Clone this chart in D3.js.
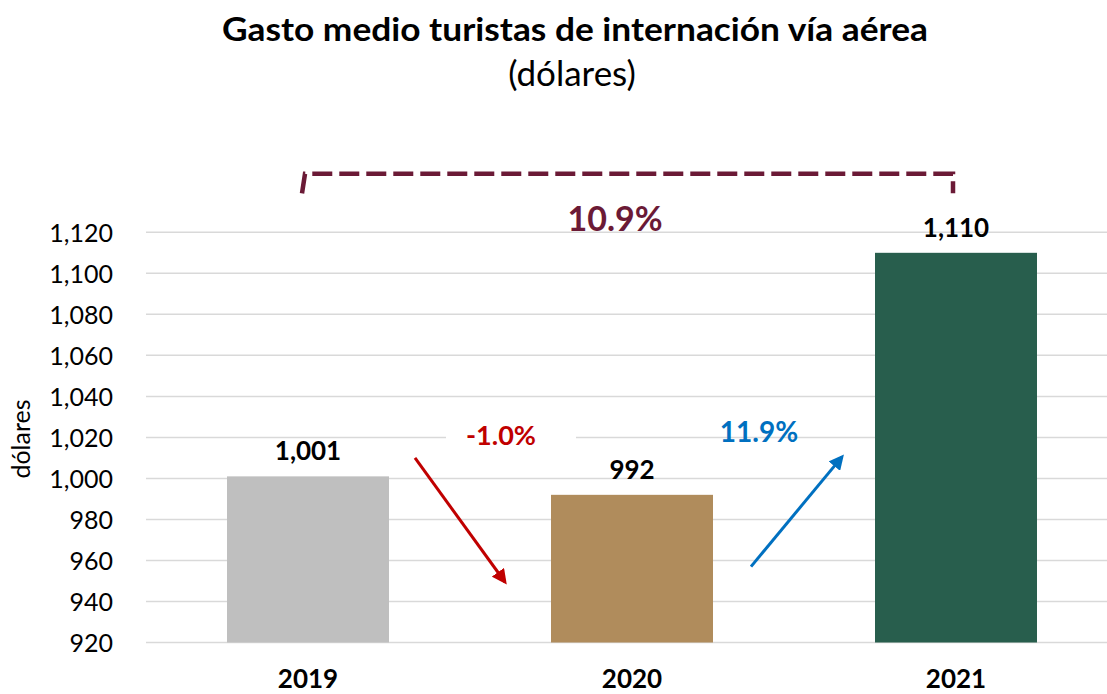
<!DOCTYPE html>
<html>
<head>
<meta charset="utf-8">
<script src="https://cdn.jsdelivr.net/npm/d3@7"></script>
<style>
  html, body { margin: 0; padding: 0; background: #fff; }
  svg { display: block; font-family: Lato, "Open Sans", sans-serif; }
</style>
</head>
<body>
<svg id="chart" width="1107" height="694"></svg>
<script>
// ---- data ----
const categories = ["2019", "2020", "2021"];
const values = [1001, 992, 1110];
const valueLabels = ["1,001", "992", "1,110"];
const barColors = ["#bfbfbf", "#b08c5c", "#285e4d"];
const yTicks = [920, 940, 960, 980, 1000, 1020, 1040, 1060, 1080, 1100, 1120];
const changeLabels = ["-1.0%", "11.9%"];
const changeColors = ["#c00000", "#0070c0"];
const totalChangeLabel = "10.9%";
const titleText = "Gasto medio turistas de internación vía aérea";
const subtitleText = "(dólares)";
const yAxisTitle = "dólares";

// ---- layout ----
const svg = d3.select("#chart");
const plotLeft = 146, plotRight = 1118;
const y = d3.scaleLinear().domain([920, 1120]).range([642.5, 232.3]);
const x = d3.scaleBand().domain(categories).range([plotLeft, plotRight])
  .paddingInner(0.5).paddingOuter(0.25);
const bw = x.bandwidth();
const fmt = d3.format(",");

// title
svg.append("text").attr("x", 575).attr("y", 41).attr("text-anchor", "middle")
  .attr("font-size", 33).attr("font-weight", 700).attr("fill", "#000")
  .attr("textLength", 706).attr("lengthAdjust", "spacingAndGlyphs").text(titleText);
svg.append("text").attr("x", 572).attr("y", 86).attr("text-anchor", "middle")
  .attr("font-size", 35).attr("fill", "#000").text(subtitleText);

// gridlines
svg.append("g").selectAll("line").data(yTicks).join("line")
  .attr("x1", plotLeft).attr("x2", plotRight)
  .attr("y1", d => y(d)).attr("y2", d => y(d))
  .attr("stroke", "#d9d9d9").attr("stroke-width", 1.5);

// y axis via d3 axis
const yAxis = d3.axisLeft(y).tickValues(yTicks).tickFormat(fmt).tickSize(0).tickPadding(0);
const gy = svg.append("g").attr("transform", "translate(113,0)").call(yAxis);
gy.select(".domain").remove();
gy.selectAll("text").attr("font-size", 25).attr("fill", "#000")
  .attr("font-family", "Lato, 'Open Sans', sans-serif").attr("dy", "0.36em");

// y axis title
svg.append("text").attr("transform", `translate(30,439) rotate(-90)`)
  .attr("text-anchor", "middle").attr("font-size", 25).attr("fill", "#000").text(yAxisTitle);

// bars
svg.append("g").selectAll("rect").data(categories).join("rect")
  .attr("x", d => x(d)).attr("width", bw)
  .attr("y", (d, i) => y(values[i])).attr("height", (d, i) => y(920) - y(values[i]))
  .attr("fill", (d, i) => barColors[i]);

// value labels
svg.append("g").selectAll("text").data(categories).join("text")
  .attr("x", d => x(d) + bw / 2).attr("y", (d, i) => y(values[i]) - 16)
  .attr("text-anchor", "middle").attr("font-size", 26).attr("font-weight", 700)
  .attr("fill", "#000").text((d, i) => valueLabels[i]);

// x axis labels
const xAxis = d3.axisBottom(x).tickSize(0).tickPadding(0);
const gx = svg.append("g").attr("transform", "translate(0,688)").call(xAxis);
gx.select(".domain").remove();
gx.selectAll("text").attr("font-size", 26).attr("font-weight", 700).attr("fill", "#000")
  .attr("font-family", "Lato, 'Open Sans', sans-serif").attr("dy", 0);

// arrow markers
const defs = svg.append("defs");
changeColors.forEach((c, i) => {
  defs.append("marker").attr("id", "arrow" + i)
    .attr("viewBox", "0 0 10 10").attr("refX", 8).attr("refY", 5)
    .attr("markerWidth", 5).attr("markerHeight", 5).attr("orient", "auto")
    .append("path").attr("d", "M0,0 L10,5 L0,10 Z").attr("fill", c);
});

// -1.0% label with white box
const c0 = x(categories[0]) + bw, c1 = x(categories[1]);
const c1r = x(categories[1]) + bw, c2 = x(categories[2]);
svg.append("rect").attr("x", c0 + 57).attr("y", y(1028)).attr("width", 130)
  .attr("height", y(1012) - y(1028)).attr("fill", "#fff");
svg.append("text").attr("x", (c0 + c1) / 2 + 31).attr("y", y(1017) + 1)
  .attr("text-anchor", "middle").attr("font-size", 27).attr("font-weight", 700)
  .attr("fill", changeColors[0]).text(changeLabels[0]);
svg.append("text").attr("x", (c1r + c2) / 2 - 35).attr("y", y(1018))
  .attr("text-anchor", "middle").attr("font-size", 28).attr("font-weight", 700)
  .attr("fill", changeColors[1]).text(changeLabels[1]);

// arrows
svg.append("line").attr("x1", c0 + 26).attr("y1", y(1010))
  .attr("x2", c1 - 46).attr("y2", y(949.5))
  .attr("stroke", changeColors[0]).attr("stroke-width", 3).attr("marker-end", "url(#arrow0)");
svg.append("line").attr("x1", c1r + 38).attr("y1", y(957))
  .attr("x2", c2 - 33).attr("y2", y(1010.5))
  .attr("stroke", changeColors[1]).attr("stroke-width", 3).attr("marker-end", "url(#arrow1)");

// bracket
const bx1 = x(categories[0]) + bw / 2 - 6, bx2 = x(categories[2]) + bw / 2 - 3;
const byTop = y(1148.5), byBot = y(1139);
svg.append("path")
  .attr("d", `M${bx1},${byBot} L${bx1 + 3},${byTop} L${bx2},${byTop} L${bx2},${byBot}`)
  .attr("fill", "none").attr("stroke", "#6b1a36").attr("stroke-width", 4.5)
  .attr("stroke-dasharray", "20 7");
svg.append("text").attr("x", 615).attr("y", y(1120) - 1).attr("text-anchor", "middle")
  .attr("font-size", 34).attr("font-weight", 700).attr("fill", "#6b1a36").text(totalChangeLabel);
</script>
</body>
</html>
